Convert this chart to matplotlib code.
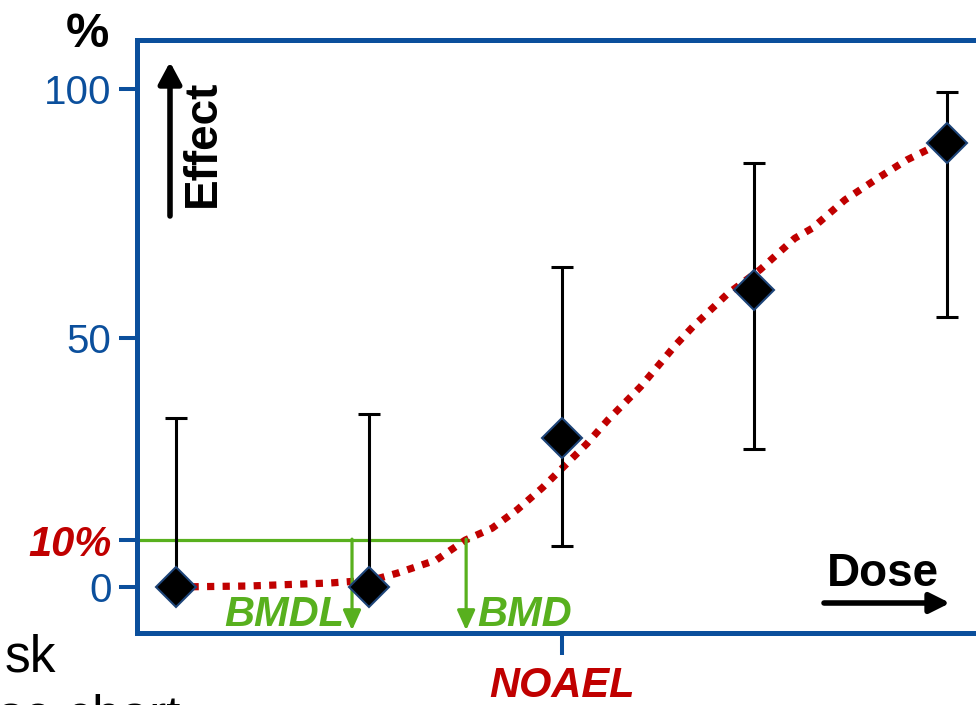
import matplotlib
matplotlib.use("Agg")
import matplotlib.pyplot as plt

plt.rcParams['font.family'] = ['Liberation Sans', 'DejaVu Sans']

# observed dose groups (mean effect and error bar limits, %)
dose = [1, 2, 3, 4, 5]
effect = [0, 0, 29.9, 59.6, 89.2]
err_low = [0, 0, 8.2, 27.7, 54.2]
err_high = [33.9, 34.7, 64.3, 85.1, 99.4]

# fitted dose-response curve
curve_x = [1.00, 1.38, 1.80, 2.02, 2.15, 2.35, 2.50, 2.64, 2.77, 2.90, 3.01,
           3.13, 3.24, 3.41, 3.59, 3.68, 3.86, 4.03, 4.21, 4.30, 4.47, 4.65,
           4.79, 4.90, 5.00]
curve_y = [0.0, 0.2, 0.8, 1.4, 2.8, 5.4, 9.4, 11.8, 15.5, 19.9, 24.1,
           28.7, 33.5, 40.2, 48.5, 52.2, 58.8, 63.7, 70.0, 72.0, 77.7, 82.3,
           85.7, 87.8, 88.8]

bmr = 9.4       # benchmark response line (labelled 10%)
bmdl = 1.913
bmd = 2.505
noael = 3

ytick_vals = [0, bmr, 50, 100]
ytick_text = ['0', '10%', '50', '100']

blue = '#0b4f9c'
red = '#c00000'
green = '#58b01e'

fig = plt.figure(figsize=(9.76, 7.05), dpi=100)
ax = fig.add_axes([136.5 / 976, (705 - 633) / 705, (976 - 136.5) / 976, (633 - 40.5) / 705])
ax.set_xlim(0.795, 5.15)
ax.set_ylim(-9.24, 109.7)

for side in ['left', 'top', 'bottom']:
    ax.spines[side].set_color(blue)
    ax.spines[side].set_linewidth(3.6)
ax.spines['right'].set_visible(False)

# fitted curve
ax.plot(curve_x, curve_y, color=red, lw=5.2, linestyle=(0, (1, 1.15)),
        dash_capstyle='butt', zorder=2)

# BMR line and BMDL / BMD arrows
ax.plot([0.82, 2.515], [bmr, bmr], color=green, lw=2.3, zorder=1)
for xv in [bmdl, bmd]:
    ax.annotate('', xy=(xv, -8.7), xytext=(xv, bmr + 0.2),
                arrowprops=dict(arrowstyle='-|>,head_length=0.6,head_width=0.27',
                                color=green, lw=2.3, mutation_scale=20,
                                shrinkA=0, shrinkB=0))

# data points with error bars
lower = [e - l for e, l in zip(effect, err_low)]
upper = [h - e for e, h in zip(effect, err_high)]
ax.errorbar(dose, effect, yerr=[lower, upper], fmt='none', ecolor='black',
            elinewidth=2.2, capsize=8, capthick=2.2, zorder=3)
ax.plot(dose, effect, linestyle='none', marker='D', markersize=20,
        markerfacecolor='black', markeredgecolor='#1d4478', markeredgewidth=1.5,
        zorder=4)

# ticks
ax.set_yticks(ytick_vals)
ax.set_yticklabels(ytick_text)
ax.tick_params(axis='y', direction='out', length=13, width=2.9, color=blue,
               labelsize=29, labelcolor=blue, pad=5)
for lab in ax.get_yticklabels():
    if lab.get_text() == '10%':
        lab.set_color(red)
        lab.set_fontweight('bold')
        lab.set_fontstyle('italic')
        lab.set_fontsize(30)

ax.set_xticks([noael])
ax.set_xticklabels(['NOAEL'])
ax.tick_params(axis='x', direction='out', length=16, width=2.9, color=blue,
               labelsize=30, labelcolor=red, pad=8)
for lab in ax.get_xticklabels():
    lab.set_fontweight('bold')
    lab.set_fontstyle('italic')

# labels
ax.text(bmdl - 0.04, -7.9, 'BMDL', color=green, fontsize=30, fontweight='bold',
        fontstyle='italic', ha='right', va='baseline')
ax.text(bmd + 0.06, -7.9, 'BMD', color=green, fontsize=30, fontweight='bold',
        fontstyle='italic', ha='left', va='baseline')

fig.text(87 / 976, (705 - 47) / 705, '%', fontsize=35, fontweight='bold',
         ha='center', va='baseline')
fig.text(225 / 976, (705 - 143) / 705, 'Effect', fontsize=33, fontweight='bold',
         rotation=90, ha='right', va='center')
fig.text(883 / 976, (705 - 586) / 705, 'Dose', fontsize=33, fontweight='bold',
         ha='center', va='baseline')

ax.annotate('', xy=(170, 705 - 62), xytext=(170, 705 - 216), xycoords='figure pixels',
            arrowprops=dict(arrowstyle='-|>,head_length=0.65,head_width=0.35',
                            color='black', lw=4, mutation_scale=20,
                            shrinkA=0, shrinkB=0))
ax.annotate('', xy=(950, 705 - 603), xytext=(824, 705 - 603), xycoords='figure pixels',
            arrowprops=dict(arrowstyle='-|>,head_length=0.6,head_width=0.3',
                            color='black', lw=4, mutation_scale=20,
                            shrinkA=0, shrinkB=0))

# leftover slide text
fig.text(5 / 976, (705 - 672) / 705, 'sk', fontsize=37, ha='left', va='baseline')
fig.text(-2 / 976, (705 - 732) / 705, 'se chart', fontsize=37, ha='left', va='baseline')

fig.savefig('out.png', dpi=100)
